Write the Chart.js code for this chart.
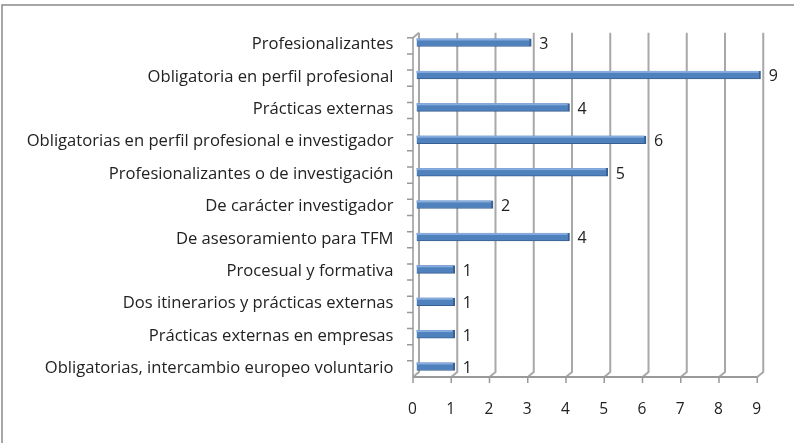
<!DOCTYPE html>
<html>
<head>
<meta charset="utf-8">
<script src="https://cdn.jsdelivr.net/npm/chart.js@4/dist/chart.umd.min.js"></script>
<style>
  html, body { margin: 0; padding: 0; background: #ffffff; }
  #wrap { position: relative; width: 794px; height: 443px; }
</style>
</head>
<body>
<div id="wrap"><canvas id="c" width="794" height="443"></canvas></div>
<script>
// Modalidades de prácticas y número de másteres
const categories = [
  'Profesionalizantes',
  'Obligatoria en perfil profesional',
  'Prácticas externas',
  'Obligatorias en perfil profesional e investigador',
  'Profesionalizantes o de investigación',
  'De carácter investigador',
  'De asesoramiento para TFM',
  'Procesual y formativa',
  'Dos itinerarios y prácticas externas',
  'Prácticas externas en empresas',
  'Obligatorias, intercambio europeo voluntario'
];
const counts = [3, 9, 4, 6, 5, 2, 4, 1, 1, 1, 1];
const axisMin = 0;
const axisMax = 9;
const axisStep = 1;

const FONT = '"Open Sans", Lato, sans-serif';
const TEXT = '#222222';
const GRID = '#a8a8a8';
const AXIS = '#999999';

// Pseudo-3D wall, floor and axes in the style of a spreadsheet 3-D bar chart
const wallPlugin = {
  id: 'wall',
  beforeDraw(chart) {
    const ctx = chart.ctx;
    ctx.save();
    // outer frame (top and left edges)
    ctx.strokeStyle = '#8a8a8a';
    ctx.lineWidth = 1.5;
    ctx.beginPath();
    ctx.moveTo(2, chart.height);
    ctx.lineTo(2, 5);
    ctx.lineTo(chart.width, 5);
    ctx.stroke();
    ctx.restore();
  },
  beforeDatasetsDraw(chart) {
    const ctx = chart.ctx;
    const xs = chart.scales.x;
    const area = chart.chartArea;
    const dx = 6, dy = 5;
    const wallTop = area.top + 6.5;
    const floorY = area.bottom - 5.7;
    const wallBottom = floorY - dy;
    const backOff = 2.5, frontOff = backOff - dx;
    ctx.save();
    ctx.lineCap = 'butt';

    // back wall gridlines with their slanted foot
    ctx.strokeStyle = GRID;
    ctx.lineWidth = 2;
    for (let v = axisMin; v <= axisMax; v += axisStep) {
      const X = xs.getPixelForValue(v) + backOff;
      ctx.beginPath();
      ctx.moveTo(X, wallTop);
      ctx.lineTo(X, wallBottom);
      ctx.lineTo(X - dx, floorY);
      ctx.stroke();
    }
    // top corner of the side wall
    const x0 = xs.getPixelForValue(axisMin);
    ctx.beginPath();
    ctx.moveTo(x0 + backOff, wallTop);
    ctx.lineTo(x0 + frontOff, wallTop + dy);
    ctx.stroke();

    // front category axis with minor ticks
    ctx.strokeStyle = AXIS;
    ctx.lineWidth = 1.5;
    const fx = x0 + frontOff;
    ctx.beginPath();
    ctx.moveTo(fx, wallTop + dy);
    ctx.lineTo(fx, floorY);
    ctx.stroke();
    const n = categories.length * 2 - 1;
    const step = (floorY - (wallTop + dy)) / n;
    ctx.beginPath();
    for (let k = 0; k < n; k++) {
      const y = wallTop + dy + k * step;
      ctx.moveTo(fx - 6, y);
      ctx.lineTo(fx, y);
    }
    ctx.stroke();

    // floor (value axis) with ticks
    ctx.lineWidth = 2;
    ctx.beginPath();
    ctx.moveTo(fx, floorY);
    ctx.lineTo(xs.getPixelForValue(axisMax) + frontOff, floorY);
    ctx.stroke();
    ctx.lineWidth = 1.5;
    ctx.beginPath();
    for (let v = axisMin; v <= axisMax; v += axisStep) {
      const X = xs.getPixelForValue(v) + frontOff;
      ctx.moveTo(X, floorY);
      ctx.lineTo(X, floorY + 6);
    }
    ctx.stroke();
    ctx.restore();
  },
  afterDatasetsDraw(chart) {
    const ctx = chart.ctx;
    const meta = chart.getDatasetMeta(0);
    ctx.save();
    meta.data.forEach((bar, i) => {
      const top = bar.y - bar.height / 2;
      const left = bar.base;
      // light top bevel
      ctx.fillStyle = '#86abdc';
      ctx.fillRect(left, top, bar.x - left - 2, 2);
      // value label
      ctx.fillStyle = TEXT;
      ctx.font = '16px ' + FONT;
      ctx.textAlign = 'left';
      ctx.textBaseline = 'middle';
      ctx.fillText(String(counts[i]), bar.x + 8, bar.y + 2);
    });
    ctx.restore();
  }
};

new Chart(document.getElementById('c'), {
  type: 'bar',
  data: {
    labels: categories,
    datasets: [{
      data: counts,
      backgroundColor: '#4f81bd',
      borderColor: '#385f92',
      borderWidth: { top: 0, left: 0, bottom: 1, right: 2 },
      borderSkipped: false,
      barThickness: 8
    }]
  },
  plugins: [wallPlugin],
  options: {
    indexAxis: 'y',
    responsive: false,
    animation: false,
    devicePixelRatio: 1,
    layout: { padding: { top: 26.3, right: 33.25, left: 0, bottom: 0 } },
    plugins: {
      legend: { display: false },
      tooltip: { enabled: false },
      title: { display: false }
    },
    scales: {
      x: {
        type: 'linear',
        min: axisMin,
        max: axisMax,
        grid: { display: false },
        border: { display: false },
        ticks: {
          stepSize: axisStep,
          color: TEXT,
          font: { family: FONT, size: 15.5 },
          padding: 10,
          labelOffset: -4
        },
        afterFit(s) { s.height = 443 - 382.7; }
      },
      y: {
        type: 'category',
        grid: { display: false },
        border: { display: false },
        ticks: {
          color: TEXT,
          font: { family: FONT, size: 16.6 },
          padding: 15,
          labelOffset: 2,
          autoSkip: false
        },
        afterFit(s) { s.width = 416.5; }
      }
    }
  }
});
</script>
</body>
</html>
